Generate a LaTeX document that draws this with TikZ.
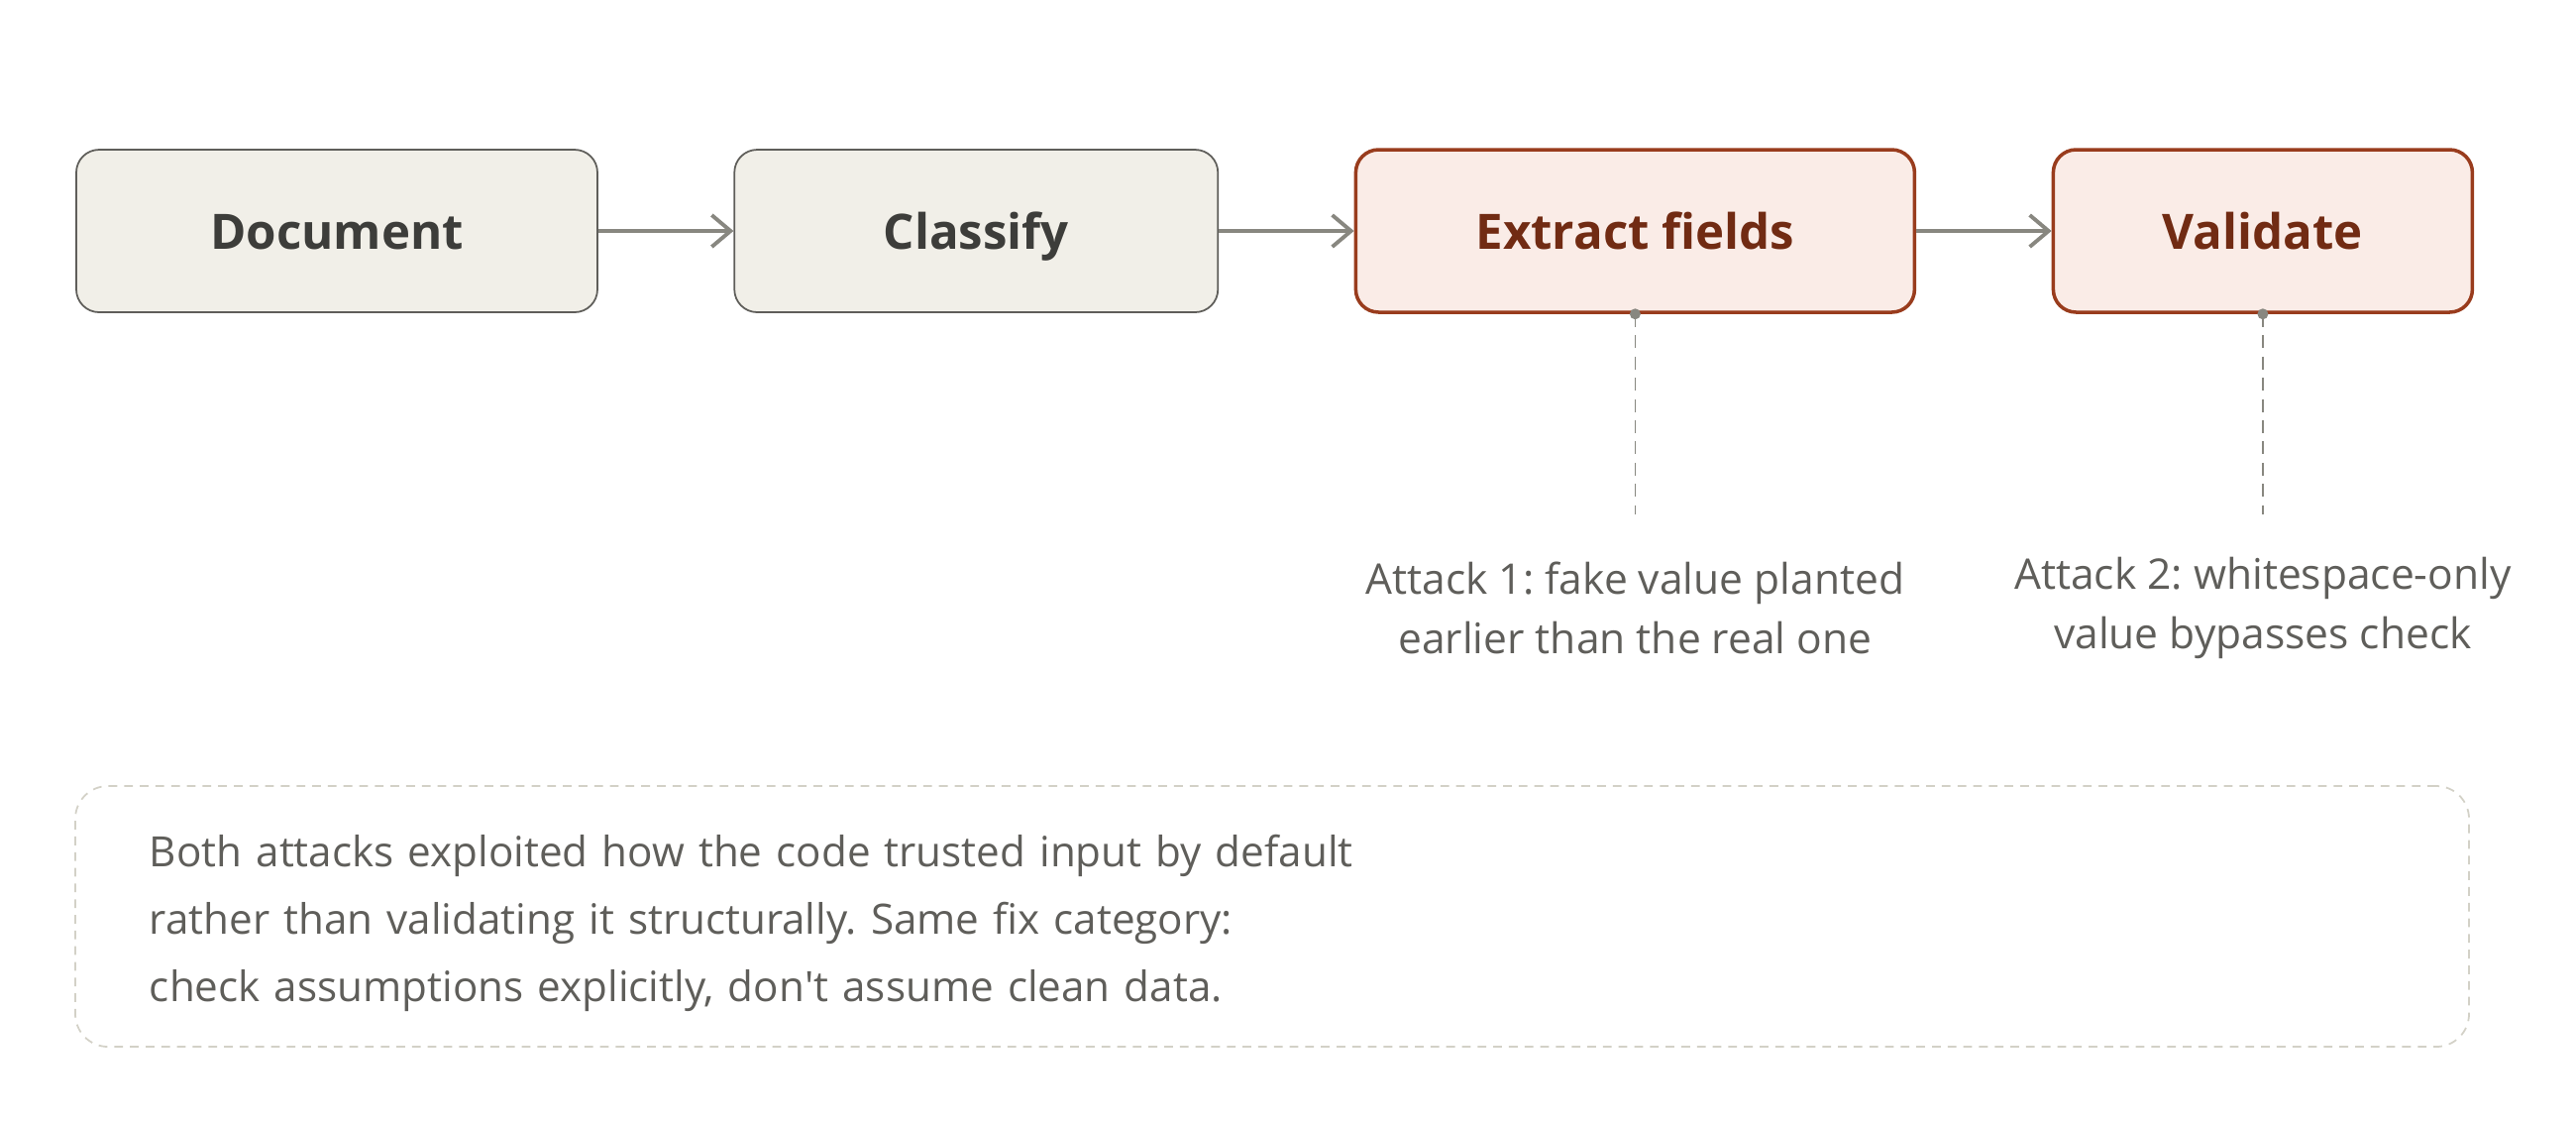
\documentclass[tikz,border=0pt]{standalone}
\usepackage{fontspec}
\setmainfont{Open Sans}
\usetikzlibrary{arrows.meta,positioning}
\definecolor{stepfill}{HTML}{F1EFE8}
\definecolor{stepline}{HTML}{5F5E5A}
\definecolor{steptext}{HTML}{3D3D3A}
\definecolor{hotfill}{HTML}{FAECE7}
\definecolor{hotline}{HTML}{993C1D}
\definecolor{hottext}{HTML}{712B13}
\definecolor{wire}{HTML}{888780}
\definecolor{notetext}{HTML}{5F5E5A}
\definecolor{noteline}{HTML}{D3D1C7}
\frenchspacing

\begin{document}
\begin{tikzpicture}[>={Straight Barb[length=1.9mm,width=3.2mm]},node distance=1.365cm,
  stage/.style={rectangle,rounded corners=0.23cm,draw=stepline,fill=stepfill,text=steptext,
    minimum height=1.64cm,line width=0.5pt,text height=1.17em,text depth=0.09em,
    font=\fontsize{14}{17}\selectfont\bfseries},
  hot/.style={stage,draw=hotline,fill=hotfill,text=hottext,line width=1pt},
  flow/.style={->,draw=wire,line width=1.1pt},
  hint/.style={draw=wire,line width=0.5pt,dash pattern=on 3.7pt off 2.4pt},
  attack/.style={align=center,text=notetext,font=\fontsize{12.1}{17}\selectfont},
  note/.style={rectangle,rounded corners=0.33cm,draw=noteline,line width=0.5pt,
    dash pattern=on 2.5pt off 2pt,text=notetext,align=left,text width=22.66cm,
    inner xsep=0.75cm,minimum height=2.63cm,font=\fontsize{12}{19.35}\selectfont}]

  \useasboundingbox (0,0) rectangle (26,-11.33);

  \node[stage,minimum width=5.26cm] (doc) at (3.40,-2.33) {Document};
  \node[stage,minimum width=4.88cm] (cls) [right=of doc] {Classify};
  \node[hot,minimum width=5.64cm]   (ext) [right=of cls] {Extract fields};
  \node[hot,minimum width=4.23cm]   (val) [right=of ext] {Validate};

  \path[flow] (doc) edge (cls)
              (cls) edge (ext)
              (ext) edge (val);

  \coordinate (ext-end) at ([yshift=-2.02cm]ext.south);
  \coordinate (val-end) at ([yshift=-2.02cm]val.south);
  \draw[hint] (ext.south) -- (ext-end);
  \draw[hint] (val.south) -- (val-end);
  \fill[wire] (ext.south) circle (0.055cm);
  \fill[wire] (val.south) circle (0.055cm);

  \node[attack] (atk1) at ([yshift=-2.97cm]ext.south) {Attack 1: fake value planted\\earlier than the real one};
  \node[attack] (atk2) at ([yshift=-2.97cm]val.south) {Attack 2: whitespace-only\\value bypasses check};

  \node[note] (lesson) at (12.84,-9.245) {\rule{0pt}{13pt}Both attacks exploited how the code trusted input by default\\
    rather than validating it structurally. Same fix category:\\
    check assumptions explicitly, don\textquotesingle t assume clean data.};
\end{tikzpicture}
\end{document}
